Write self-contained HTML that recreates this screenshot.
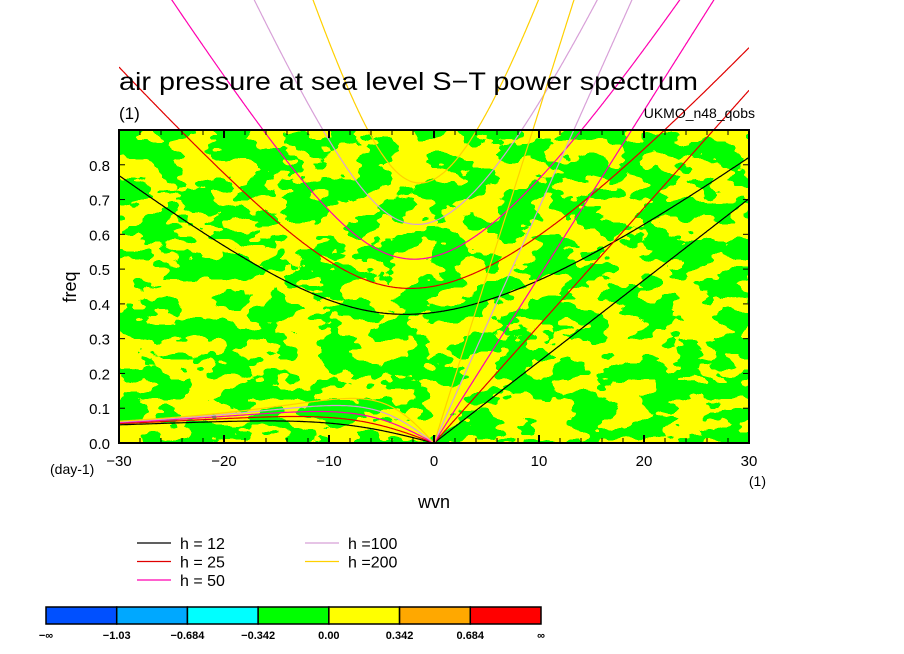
<!DOCTYPE html>
<html><head><meta charset="utf-8">
<style>
html,body{margin:0;padding:0;background:#fff;}
svg{display:block;font-family:"Liberation Sans",sans-serif;}
</style></head>
<body>
<svg id="chart" width="904" height="654" viewBox="0 0 904 654" xmlns="http://www.w3.org/2000/svg">
<defs>
<filter id="noise" x="0" y="0" width="100%" height="100%">
<feTurbulence type="fractalNoise" baseFrequency="0.028 0.05" numOctaves="3" seed="7" result="t"/>
<feComponentTransfer in="t">
<feFuncR type="discrete" tableValues="0 1"/>
<feFuncG type="linear" slope="0" intercept="1"/>
<feFuncB type="linear" slope="0" intercept="0"/>
<feFuncA type="linear" slope="0" intercept="1"/>
</feComponentTransfer>
</filter>
<clipPath id="xclip"><rect x="119" y="0" width="630" height="443"/></clipPath>
</defs>
<rect x="119" y="130" width="630" height="313" fill="#ffff00" filter="url(#noise)"/>
<g id="curves" clip-path="url(#xclip)"></g>
<rect x="119" y="130" width="630" height="313" fill="none" stroke="#000" stroke-width="2"/>
<g id="axes"></g>
<text x="119" y="90" font-size="25" textLength="579" lengthAdjust="spacingAndGlyphs">air pressure at sea level S−T power spectrum</text>
<text x="119" y="119" font-size="17">(1)</text>
<text x="755" y="118" font-size="14" text-anchor="end">UKMO_n48_qobs</text>
<text transform="translate(76,287) rotate(-90)" font-size="18" text-anchor="middle">freq</text>
<text x="434" y="508" font-size="18" text-anchor="middle">wvn</text>
<text x="50" y="474" font-size="14">(day-1)</text>
<text x="766" y="486" font-size="14" text-anchor="end">(1)</text>
<g id="legend"></g>
<g id="colorbar"></g>
</svg>
<script>
const depths=[12,25,50,100,200];
const depthColors=["#000000","#e00000","#ff00b0","#d8a0d8","#ffd000"];
const xTicks=[-30,-20,-10,0,10,20,30];
const yTicks=[0,0.1,0.2,0.3,0.4,0.5,0.6,0.7,0.8];
const yTickLabels=["0.0","0.1","0.2","0.3","0.4","0.5","0.6","0.7","0.8"];
const cbColors=["#0050ff","#00a8ff","#00ffff","#00ff00","#ffff00","#ffa800","#ff0000"];
const cbLabels=["−∞","−1.03","−0.684","−0.342","0.00","0.342","0.684","∞"];
const NS="http://www.w3.org/2000/svg";
const X0=119,X1=749,Y0=443,Y1=130,XMIN=-30,XMAX=30,YMIN=0,YMAX=0.9;
const sx=v=>X0+(v-XMIN)/(XMAX-XMIN)*(X1-X0);
const sy=v=>Y0-(v-YMIN)/(YMAX-YMIN)*(Y0-Y1);
function mk(tag,attrs,parent){const e=document.createElementNS(NS,tag);for(const k in attrs)e.setAttribute(k,attrs[k]);parent.appendChild(e);return e;}
const a=6.371e6,Om=7.292e-5,g=9.81,beta=2*Om/a,toCPD=86400/(2*Math.PI);
function cubicRoots(k,c){ // w^3 - (c^2k^2+3βc)w - βc^2k = 0
 const p=-(c*c*k*k+3*beta*c),q=-beta*c*c*k;
 const m=2*Math.sqrt(-p/3);
 const arg=(3*q/(2*p))*Math.sqrt(-3/p);const t=Math.acos(Math.max(-1,Math.min(1,arg)))/3;
 return [0,1,2].map(j=>m*Math.cos(t-2*Math.PI*j/3)).sort((u,v)=>u-v);
}
const cg=document.getElementById('curves');
depths.forEach((h,i)=>{
 const c=Math.sqrt(g*h);const col=depthColors[i];
 let ig=[],er=[],kv=[];
 for(let s=-30;s<=30.001;s+=0.1){
  const k=s/a;const r=cubicRoots(k,c);
  ig.push([s,r[2]*toCPD]);
  if(s<0) er.push([s,r[1]*toCPD]);
  if(s>=0) kv.push([s,c*k*toCPD]);
 }
 er.push([0,0]);
 [[ig,'ig'],[er,'er'],[kv,'kelvin']].forEach(([pts,nm])=>{
  const d=pts.map((p,j)=>(j?'L':'M')+sx(p[0]).toFixed(1)+','+sy(p[1]).toFixed(1)).join('');
  const el=mk('path',{d:d,fill:'none',stroke:col,'stroke-width':1.2},cg);
  
  
 });
});
const ax=document.getElementById('axes');


for(let v=-30;v<=30;v+=2){const x=sx(v);const L=v%10===0?8:5;
 const t1=mk('line',{x1:x,y1:Y0,x2:x,y2:Y0-L,stroke:'#000','stroke-width':v%10===0?2:1},ax);
 
 const t2=mk('line',{x1:x,y1:Y1,x2:x,y2:Y1+L,stroke:'#000','stroke-width':v%10===0?2:1},ax);
 }
xTicks.forEach(v=>{const t=mk('text',{x:sx(v),y:466,'font-size':15,'text-anchor':'middle'},ax);t.textContent=v<0?'−'+(-v):String(v);
 });
for(let j=0;j<=9;j++){const v=j*0.1;const y=sy(v);
 const t1=mk('line',{x1:X0,y1:y,x2:X0+6,y2:y,stroke:'#000','stroke-width':1},ax);
 
 const t2=mk('line',{x1:X1,y1:y,x2:X1-6,y2:y,stroke:'#000','stroke-width':1},ax);
 }
yTicks.forEach((v,j)=>{const t=mk('text',{x:110,y:sy(v)+6,'font-size':15,'text-anchor':'end'},ax);t.textContent=yTickLabels[j];
 });
const lg=document.getElementById('legend');
depths.forEach((h,i)=>{const col=i<3?0:1,row=i<3?i:i-3;
 const lx=col?305:137,ly=543+row*18.5;
 const l=mk('line',{x1:lx,y1:ly,x2:lx+34,y2:ly,stroke:depthColors[i],'stroke-width':1.2},lg);
 
 const t=mk('text',{x:lx+43,y:ly+6,'font-size':16},lg);
 t.textContent=h>=100?'h ='+h:'h = '+h;
 });
const cb=document.getElementById('colorbar');
const cw=(541-46)/cbColors.length;
cbColors.forEach((c,i)=>{const r=mk('rect',{x:46+i*cw,y:607,width:cw,height:17,fill:c,stroke:'#000','stroke-width':1.5},cb);
 });
cbLabels.forEach((s,i)=>{const t=mk('text',{x:46+i*cw,y:639,'font-size':11,'font-weight':'bold','text-anchor':'middle'},cb);t.textContent=s;
 });
</script>
</body></html>
